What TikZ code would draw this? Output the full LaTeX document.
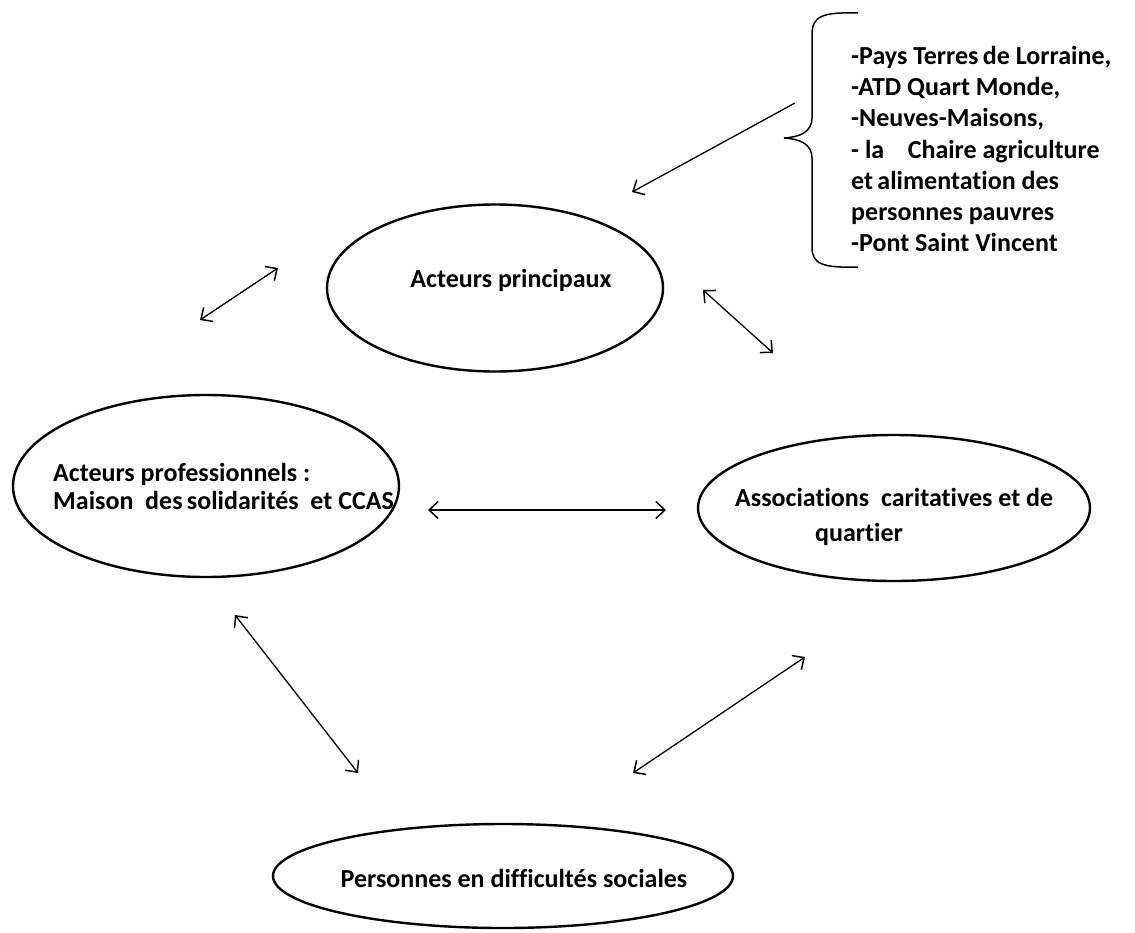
\documentclass[tikz,border=0pt]{standalone}
\usepackage{fontspec}
\setmainfont{Carlito}[Ligatures=NoCommon]
\usetikzlibrary{shapes.geometric,arrows.meta}
\begin{document}
\begin{tikzpicture}[x=1pt,y=-1pt,
  oval/.style={draw, ellipse, line width=2.4pt, inner sep=0pt},
  lbl/.style={font=\fontsize{26}{28}\selectfont\bfseries, text=black, inner sep=0pt},
  link/.style={line width=1.3pt, {Straight Barb[length=9pt,width=17pt,line width=1.5pt]}-{Straight Barb[length=9pt,width=17pt,line width=1.5pt]}},
  onearrow/.style={line width=1.3pt, -{Straight Barb[length=9pt,width=17pt,line width=1.5pt]}}]
\useasboundingbox (0,0) rectangle (1135,932);
% ellipses
\node[oval, minimum width=336pt, minimum height=167pt] (main) at (495,288) {};
\node[oval, minimum width=386pt, minimum height=182pt] (pro) at (206,486) {};
\node[oval, minimum width=392pt, minimum height=146pt] (assoc) at (894,508) {};
\node[oval, minimum width=460pt, minimum height=104pt] (pers) at (503,876) {};
% labels
\node[lbl] (tmain) at (511,280) {Acteurs principaux};
\node[lbl, anchor=west, align=left] (tpro) at (53,486) {Acteurs professionnels :\\Maison\ \ des\,solidarités\ \ et CCAS};
\node[lbl, anchor=west, align=left, font=\fontsize{26}{35}\selectfont\bfseries] (tassoc) at (735,517) {Associations\ \ caritatives et de\\\hspace*{80pt}quartier};
\node[lbl] (tpers) at (514,878) {Personnes en difficultés sociales};
% brace
\draw[line width=1.5pt] (858,13) .. controls (822,12) and (812,16) .. (812,35) -- (812,118) .. controls (812,132) and (800,137) .. (784,138) .. controls (800,139) and (812,144) .. (812,158) -- (812,247) .. controls (812,264) and (822,268) .. (858,267);
\node[lbl, anchor=north west, align=left, font=\fontsize{26}{31.2}\selectfont\bfseries] (list) at (851,46) {-Pays Terres\,de Lorraine,\\-ATD Quart Monde,\\-Neuves-Maisons,\\- la\ \ \ \ Chaire agriculture\\et\,alimentation des\\personnes pauvres\\-Pont Saint Vincent};
% arrow ends
\coordinate (b0) at (795,103);
\coordinate (b1) at (632,192);
\coordinate (a1) at (200,320);
\coordinate (a2) at (278,268);
\coordinate (c1) at (703,290);
\coordinate (c2) at (773,353);
\coordinate (d1) at (428,510);
\coordinate (d2) at (666,510);
\coordinate (e1) at (235,615);
\coordinate (e2) at (358,773);
\coordinate (f1) at (633,773);
\coordinate (f2) at (805,657);
\draw[onearrow] (b0) -- (b1);
\draw[link] (a1) -- (a2);
\draw[link] (c1) -- (c2);
\draw[link] (d1) -- (d2);
\draw[link] (e1) -- (e2);
\draw[link] (f1) -- (f2);
\end{tikzpicture}
\end{document}
